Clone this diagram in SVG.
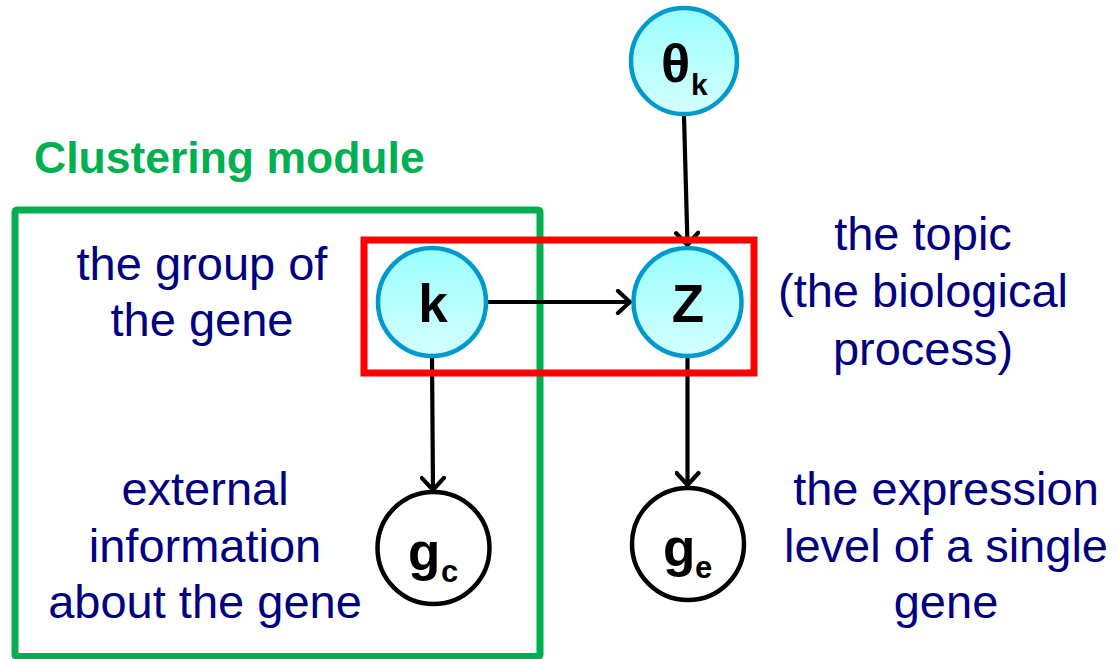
<svg xmlns="http://www.w3.org/2000/svg" width="1119" height="659" viewBox="0 0 1119 659">
  <defs>
    <linearGradient id="nodeFill" x1="0" y1="0" x2="0" y2="1">
      <stop offset="0" stop-color="#99FFFF"/>
      <stop offset="1" stop-color="#D4FFFF"/>
    </linearGradient>
    <marker id="arrow" viewBox="-16 -13 19 26" markerWidth="19" markerHeight="26" refX="0" refY="0" orient="auto" markerUnits="userSpaceOnUse">
      <path d="M-12,-11 L0,0 L-12,11" fill="none" stroke="#000" stroke-width="4.2" stroke-linecap="round" stroke-linejoin="miter"/>
    </marker>
    <style>
      .latent { fill: url(#nodeFill); stroke: #0099CC; stroke-width: 4.5; }
      .observed { fill: #FFFFFF; stroke: #000; stroke-width: 4.5; }
      .sym { font-family: "Liberation Sans", Arial, sans-serif; font-weight: bold; fill: #000; }
      .desc { font-family: "Liberation Sans", Arial, sans-serif; font-size: 47px; fill: #000080; text-anchor: middle; }
      .edge { stroke: #000; stroke-width: 4.2; fill: none; marker-end: url(#arrow); }
    </style>
  </defs>
  <rect width="1119" height="659" fill="#FFFFFF"/>

  <!-- clustering module frame and title -->
  <g id="clustering-module">
    <rect x="15" y="210" width="525" height="446.5" fill="none" stroke="#00B050" stroke-width="7" rx="2"/>
    <text x="34" y="173" font-family="Liberation Sans, Arial, sans-serif" font-weight="bold" font-size="44.5" fill="#00B050">Clustering module</text>
  </g>

  <!-- connectors -->
  <g id="connectors">
    <line class="edge" x1="684" y1="116" x2="687.5" y2="245"/>
    <line class="edge" x1="488" y1="302" x2="630" y2="302"/>
    <line class="edge" x1="432" y1="358" x2="433" y2="490"/>
    <line class="edge" x1="687.5" y1="358" x2="687.5" y2="485"/>
  </g>

  <!-- topic plate -->
  <g id="topic-plate">
    <rect x="364" y="240" width="390" height="133" fill="none" stroke="#FF0000" stroke-width="7"/>
  </g>

  <g id="node-theta">
    <circle class="latent" cx="684" cy="61" r="53"/>
    <text class="sym" x="661" y="82" font-size="54">θ</text>
    <text class="sym" x="691" y="95" font-size="30">k</text>
  </g>

  <g id="node-k">
    <circle class="latent" cx="432" cy="302" r="54"/>
    <text class="sym" x="433" y="322" font-size="53" text-anchor="middle">k</text>
  </g>

  <g id="node-z">
    <circle class="latent" cx="687.5" cy="302" r="54"/>
    <text class="sym" x="688" y="322" font-size="53" text-anchor="middle">Z</text>
  </g>

  <g id="node-gc">
    <circle class="observed" cx="433.5" cy="548" r="56"/>
    <text class="sym" x="408" y="570" font-size="53">g</text>
    <text class="sym" x="441" y="582" font-size="31">c</text>
  </g>

  <g id="node-ge">
    <circle class="observed" cx="688" cy="544" r="56"/>
    <text class="sym" x="663" y="566" font-size="53">g</text>
    <text class="sym" x="695" y="578" font-size="31">e</text>
  </g>

  <!-- descriptions -->
  <g id="label-group">
    <text class="desc" x="202" y="280">the group of</text>
    <text class="desc" x="202" y="336">the gene</text>
  </g>
  <g id="label-external">
    <text class="desc" x="205" y="505">external</text>
    <text class="desc" x="205" y="562">information</text>
    <text class="desc" x="205" y="618">about the gene</text>
  </g>
  <g id="label-topic">
    <text class="desc" x="923" y="250">the topic</text>
    <text class="desc" x="923" y="307">(the biological</text>
    <text class="desc" x="923" y="365">process)</text>
  </g>
  <g id="label-expression">
    <text class="desc" x="946" y="505">the expression</text>
    <text class="desc" x="946" y="562">level of a single</text>
    <text class="desc" x="946" y="618">gene</text>
  </g>
</svg>
